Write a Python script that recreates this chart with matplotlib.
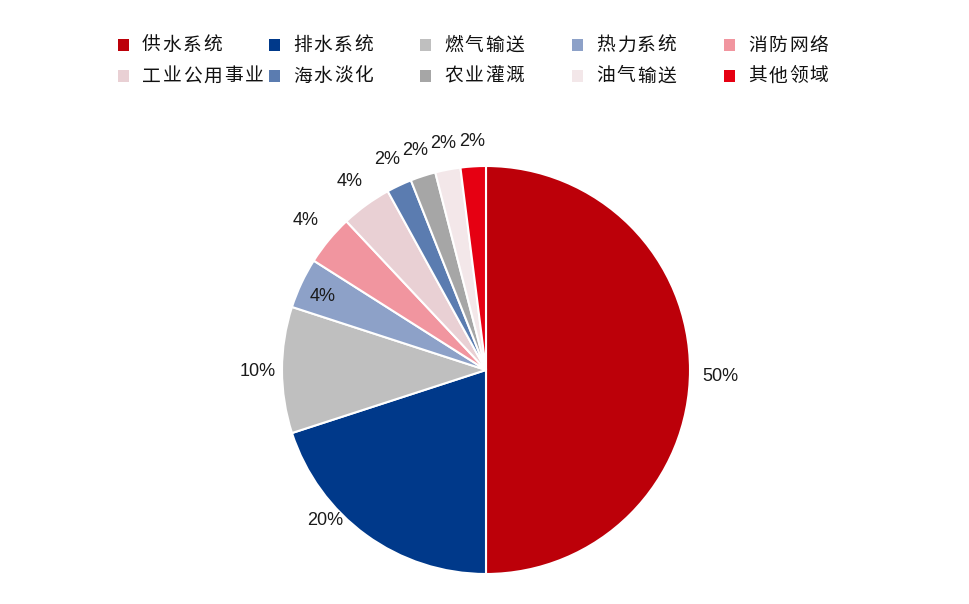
import numpy as np
import matplotlib
matplotlib.use('Agg')
import matplotlib.pyplot as plt
from matplotlib.patches import Rectangle

plt.rcParams['font.family'] = ['Noto Sans CJK SC', 'DejaVu Sans']

# 数据
categories = ['供水系统', '排水系统', '燃气输送', '热力系统', '消防网络',
              '工业公用事业', '海水淡化', '农业灌溉', '油气输送', '其他领域']
shares = [50, 20, 10, 4, 4, 4, 2, 2, 2, 2]
colors = ['#BC0009', '#00398A', '#BFBFBF', '#8DA1C8', '#F1959F',
          '#E9D0D4', '#5B7CB0', '#A6A6A6', '#F3E7E9', '#E60012']

# 标签位置（相对半径, 角度偏移）
label_r = [1.15, 1.08, 1.12, 0.88, 1.15, 1.14, 1.14, 1.13, 1.13, 1.12]
label_da = [-1.5, -11, 0.5, 1, 0, 0, 0, 0, 0, 0]

fig = plt.figure(figsize=(9.69, 6.04), dpi=100)
W, H = 969, 604
cx, cy, R = 486, 370, 204
ax = fig.add_axes([(cx - R) / W, (H - cy - R) / H, 2 * R / W, 2 * R / H])

wedges, _ = ax.pie(shares, colors=colors, startangle=90, counterclock=False,
                   radius=1, wedgeprops=dict(edgecolor='white', linewidth=1.5))
ax.set_xlim(-1, 1)
ax.set_ylim(-1, 1)
ax.axis('off')

for w, v, r, da in zip(wedges, shares, label_r, label_da):
    mid = np.deg2rad((w.theta1 + w.theta2) / 2 + da)
    ax.text(r * np.cos(mid), r * np.sin(mid), f'{v}%', ha='center', va='center',
            fontsize=13, family='Liberation Sans', color='#1a1a1a')

# 图例（两行五列），字间距较宽
col_x = [123, 274, 425, 577, 729]
row_y = [45, 76]
pitch = 20.5
for i, (name, c) in enumerate(zip(categories, colors)):
    x = col_x[i % 5]
    y = row_y[i // 5]
    fig.patches.append(Rectangle(((x - 5.5) / W, (H - y - 5.5) / H), 11 / W, 11 / H,
                                 facecolor=c, edgecolor='none',
                                 transform=fig.transFigure, figure=fig))
    for k, ch in enumerate(name):
        fig.text((x + 20 + 8.5 + k * pitch) / W, (H - y) / H, ch,
                 ha='center', va='center', fontsize=13.5, color='#111111')

fig.savefig('out.png', dpi=100)
